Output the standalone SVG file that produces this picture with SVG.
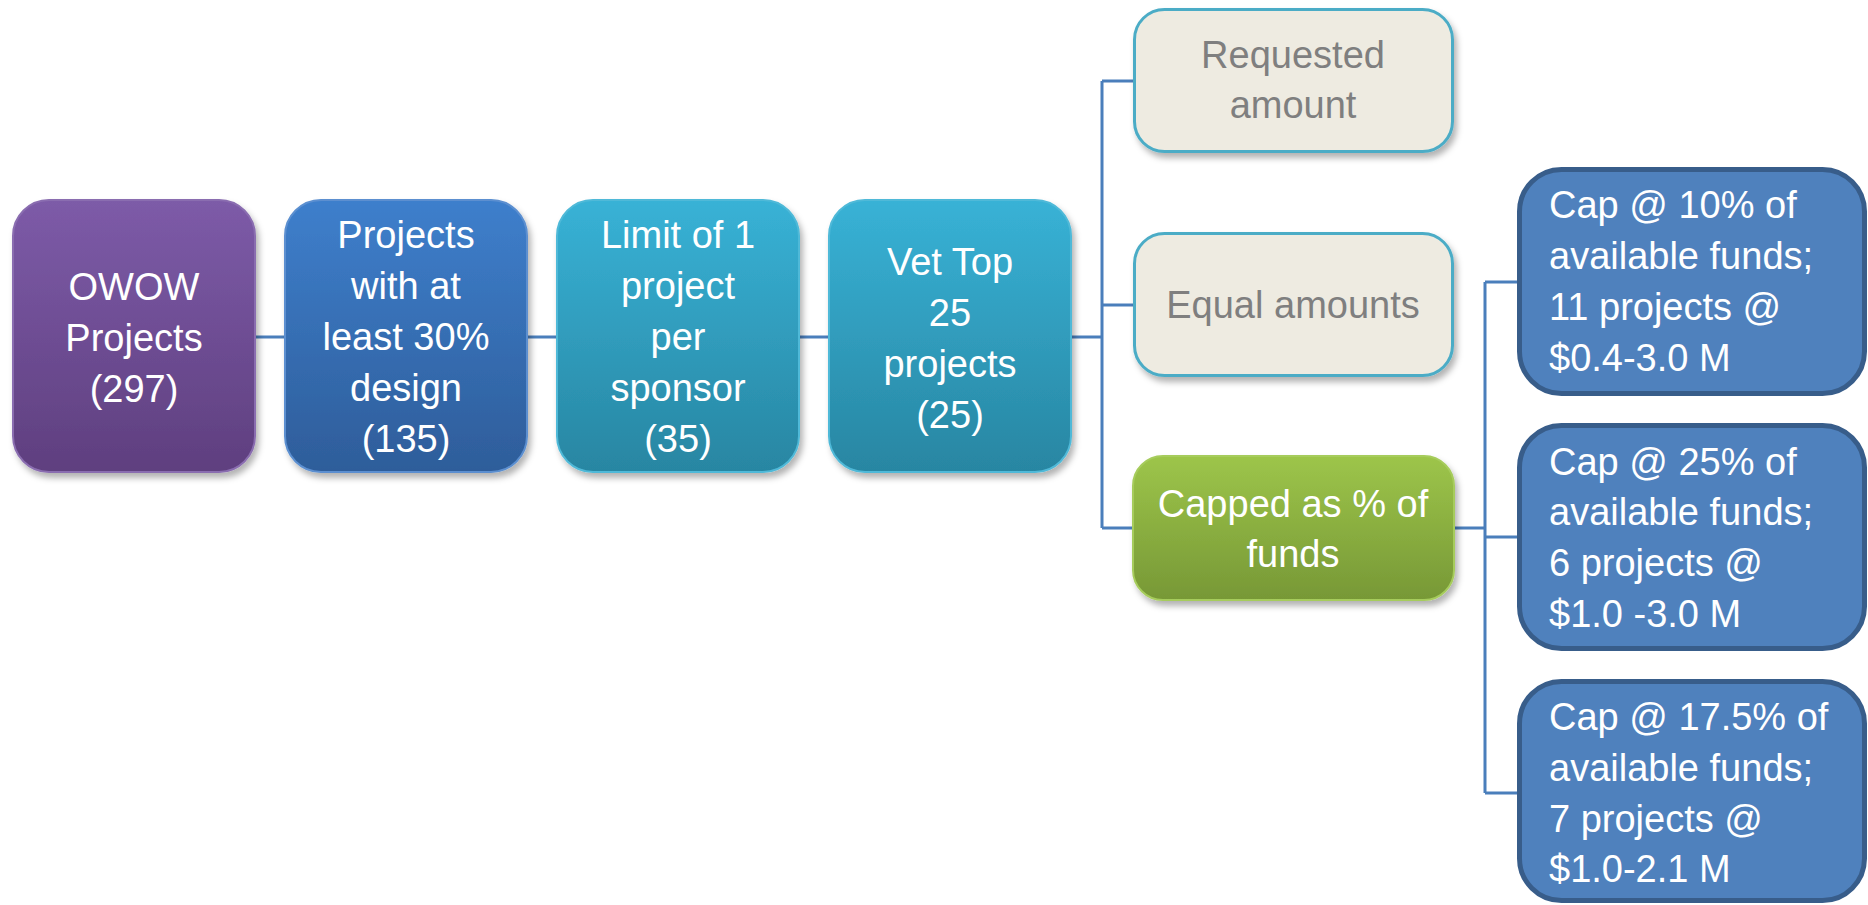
<svg xmlns="http://www.w3.org/2000/svg" width="1868" height="905" viewBox="0 0 1868 905">
<style>
  text { font-family: "Liberation Sans", Arial, sans-serif; font-size: 38px; }
  .w { fill: #ffffff; }
  .g { fill: #7f7f7f; }
  .c { text-anchor: middle; }
  .conn { fill: none; stroke: #4a7ebb; stroke-width: 3; }
</style>
<defs>
  <filter id="sh" x="-10%" y="-10%" width="125%" height="125%">
    <feDropShadow dx="3" dy="5" stdDeviation="3" flood-color="#000" flood-opacity="0.3"/>
  </filter>
  <linearGradient id="gPurple" x1="0" y1="0" x2="0" y2="1">
    <stop offset="0" stop-color="#7d5ba8"/>
    <stop offset="1" stop-color="#5f3f7f"/>
  </linearGradient>
  <linearGradient id="gBlue" x1="0" y1="0" x2="0" y2="1">
    <stop offset="0" stop-color="#3e7fcc"/>
    <stop offset="1" stop-color="#2e5d9a"/>
  </linearGradient>
  <linearGradient id="gTeal" x1="0" y1="0" x2="0" y2="1">
    <stop offset="0" stop-color="#38b2d6"/>
    <stop offset="1" stop-color="#2886a2"/>
  </linearGradient>
  <linearGradient id="gGreen" x1="0" y1="0" x2="0" y2="1">
    <stop offset="0" stop-color="#9dc54a"/>
    <stop offset="1" stop-color="#779836"/>
  </linearGradient>
</defs>

<g id="connectors">
  <path class="conn" d="M255,337 H285 M527,337 H557 M799,337 H829"/>
  <path class="conn" d="M1071,337 H1102 M1102,81 V528 M1102,81 H1133 M1102,305 H1133 M1102,528 H1133"/>
  <path class="conn" d="M1454,528 H1485 M1485,282 V793 M1485,282 H1517 M1485,537 H1517 M1485,793 H1517"/>
</g>

<g id="owow">
  <rect x="13" y="200" width="242" height="272" rx="36" fill="url(#gPurple)" stroke="#8a6db0" stroke-width="2" filter="url(#sh)"/>
  <text class="w c" x="134" y="300">OWOW</text>
  <text class="w c" x="134" y="351">Projects</text>
  <text class="w c" x="134" y="402">(297)</text>
</g>

<g id="design30">
  <rect x="285" y="200" width="242" height="272" rx="36" fill="url(#gBlue)" stroke="#5b8fd0" stroke-width="2" filter="url(#sh)"/>
  <text class="w c" x="406" y="248">Projects</text>
  <text class="w c" x="406" y="299">with at</text>
  <text class="w c" x="406" y="350">least 30%</text>
  <text class="w c" x="406" y="401">design</text>
  <text class="w c" x="406" y="452">(135)</text>
</g>

<g id="limit">
  <rect x="557" y="200" width="242" height="272" rx="36" fill="url(#gTeal)" stroke="#4fb9d8" stroke-width="2" filter="url(#sh)"/>
  <text class="w c" x="678" y="248">Limit of 1</text>
  <text class="w c" x="678" y="299">project</text>
  <text class="w c" x="678" y="350">per</text>
  <text class="w c" x="678" y="401">sponsor</text>
  <text class="w c" x="678" y="452">(35)</text>
</g>

<g id="vettop">
  <rect x="829" y="200" width="242" height="272" rx="36" fill="url(#gTeal)" stroke="#4fb9d8" stroke-width="2" filter="url(#sh)"/>
  <text class="w c" x="950" y="275">Vet Top</text>
  <text class="w c" x="950" y="326">25</text>
  <text class="w c" x="950" y="377">projects</text>
  <text class="w c" x="950" y="428">(25)</text>
</g>

<g id="requested">
  <rect x="1134.5" y="9.5" width="318" height="142" rx="30" fill="#eeebe1" stroke="#4bacc6" stroke-width="3" filter="url(#sh)"/>
  <text class="g c" x="1293" y="68">Requested</text>
  <text class="g c" x="1293" y="118">amount</text>
</g>

<g id="equal">
  <rect x="1134.5" y="233.5" width="318" height="142" rx="30" fill="#eeebe1" stroke="#4bacc6" stroke-width="3" filter="url(#sh)"/>
  <text class="g c" x="1293" y="318">Equal amounts</text>
</g>

<g id="capped">
  <rect x="1133" y="456" width="321" height="144" rx="30" fill="url(#gGreen)" stroke="#a6cc5c" stroke-width="2" filter="url(#sh)"/>
  <text class="w c" x="1293" y="517">Capped as % of</text>
  <text class="w c" x="1293" y="567">funds</text>
</g>

<g id="cap10">
  <rect x="1519.5" y="169.5" width="345" height="224" rx="42" fill="#4f81bd" stroke="#385d8a" stroke-width="5"/>
  <text class="w" x="1549" y="218">Cap @ 10% of</text>
  <text class="w" x="1549" y="269">available funds;</text>
  <text class="w" x="1549" y="320">11 projects @</text>
  <text class="w" x="1549" y="371">$0.4-3.0 M</text>
</g>

<g id="cap25">
  <rect x="1519.5" y="425.5" width="345" height="223" rx="42" fill="#4f81bd" stroke="#385d8a" stroke-width="5"/>
  <text class="w" x="1549" y="475">Cap @ 25% of</text>
  <text class="w" x="1549" y="525">available funds;</text>
  <text class="w" x="1549" y="576">6 projects @</text>
  <text class="w" x="1549" y="627">$1.0 -3.0 M</text>
</g>

<g id="cap175">
  <rect x="1519.5" y="681.5" width="345" height="219" rx="42" fill="#4f81bd" stroke="#385d8a" stroke-width="5"/>
  <text class="w" x="1549" y="730">Cap @ 17.5% of</text>
  <text class="w" x="1549" y="781">available funds;</text>
  <text class="w" x="1549" y="832">7 projects @</text>
  <text class="w" x="1549" y="882">$1.0-2.1 M</text>
</g>
</svg>
